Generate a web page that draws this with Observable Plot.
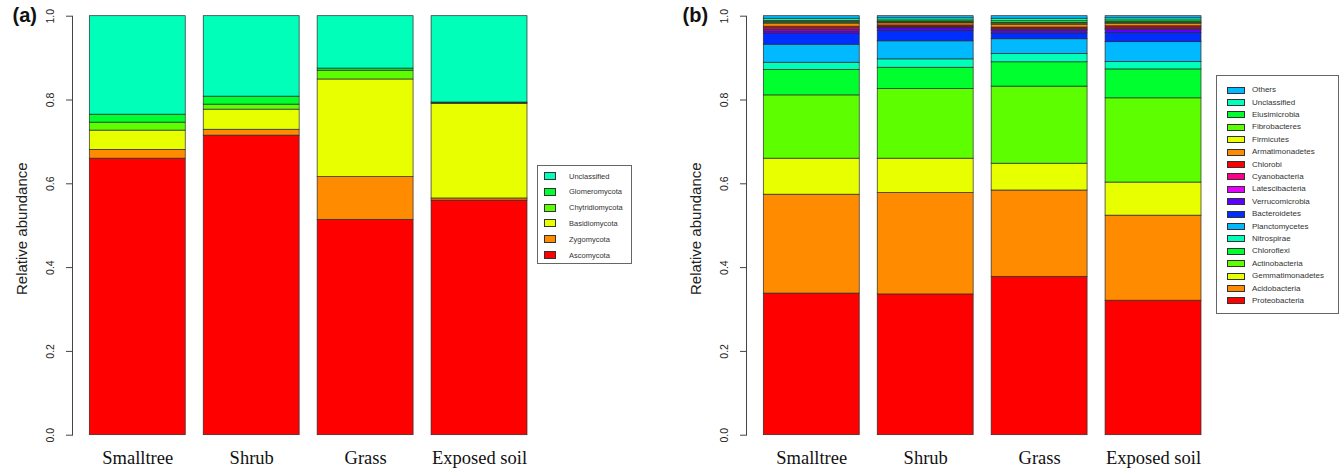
<!DOCTYPE html>
<html><head><meta charset="utf-8">
<script src="https://cdn.jsdelivr.net/npm/d3@7"></script>
<script src="https://cdn.jsdelivr.net/npm/@observablehq/plot@0.6"></script>
<style>
body{margin:0;background:#fff;}
#wrap{position:relative;width:1344px;height:469px;display:flex;overflow:hidden;}
.panel{position:relative;flex:none;}
.legend{position:absolute;border:1px solid #666;background:#fff;font-family:"Liberation Sans",Arial,sans-serif;color:#333;box-sizing:border-box;}
.item{position:absolute;white-space:nowrap;}
.sw{position:absolute;border:1px solid #333;box-sizing:border-box;}
</style>
</head><body><div id="wrap"></div>
<script>
const sites = ["Smalltree", "Shrub", "Grass", "Exposed soil"];
const yTicks = [0, 0.2, 0.4, 0.6, 0.8, 1.0];
const palette = ["#FF0000","#FF8B00","#E8FF00","#5DFF00","#00FF2E","#00FFB9","#00B9FF","#002EFF","#5D00FF","#E800FF","#FF008B"];

// (a) fungi, bottom to top
const fungiTaxa = ["Ascomycota","Zygomycota","Basidiomycota","Chytridiomycota","Glomeromycota","Unclassified"];
const ascomycota      = [0.660, 0.715, 0.514, 0.560];
const zygomycota      = [0.021, 0.014, 0.102, 0.005];
const basidiomycota   = [0.046, 0.048, 0.233, 0.226];
const chytridiomycota = [0.019, 0.012, 0.021, 0.001];
const glomeromycota   = [0.019, 0.019, 0.005, 0.002];
const fungiUnclass    = [0.235, 0.192, 0.125, 0.206];
const fungiSeries = [ascomycota, zygomycota, basidiomycota, chytridiomycota, glomeromycota, fungiUnclass];
const fungiColors = ["#FF0000","#FF8B00","#E8FF00","#5DFF00","#00FF2E","#00FFB9"];

// (b) bacteria, bottom to top
const bactTaxa = ["Proteobacteria","Acidobacteria","Gemmatimonadetes","Actinobacteria","Chloroflexi","Nitrospirae","Planctomycetes","Bacteroidetes","Verrucomicrobia","Latescibacteria","Cyanobacteria","Chlorobi","Armatimonadetes","Firmicutes","Fibrobacteres","Elusimicrobia","Unclassified","Others"];
const proteobacteria   = [0.338, 0.336, 0.378, 0.321];
const acidobacteria    = [0.236, 0.242, 0.206, 0.203];
const gemmatimonadetes = [0.086, 0.082, 0.064, 0.079];
const actinobacteria   = [0.151, 0.166, 0.184, 0.201];
const chloroflexi      = [0.061, 0.051, 0.058, 0.069];
const nitrospirae      = [0.017, 0.020, 0.020, 0.018];
const planctomycetes   = [0.043, 0.043, 0.035, 0.047];
const bacteroidetes    = [0.026, 0.025, 0.014, 0.022];
const verrucomicrobia  = [0.006, 0.006, 0.006, 0.007];
const latescibacteria  = [0.003, 0.002, 0.002, 0.003];
const cyanobacteria    = [0.004, 0.002, 0.003, 0.003];
const chlorobi         = [0.004, 0.003, 0.003, 0.003];
const armatimonadetes  = [0.006, 0.005, 0.006, 0.006];
const firmicutes       = [0.003, 0.002, 0.003, 0.002];
const fibrobacteres    = [0.002, 0.002, 0.002, 0.002];
const elusimicrobia    = [0.003, 0.003, 0.004, 0.004];
const bactUnclass      = [0.005, 0.005, 0.006, 0.005];
const others           = [0.006, 0.005, 0.006, 0.005];
const bactSeries = [proteobacteria, acidobacteria, gemmatimonadetes, actinobacteria, chloroflexi, nitrospirae, planctomycetes, bacteroidetes, verrucomicrobia, latescibacteria, cyanobacteria, chlorobi, armatimonadetes, firmicutes, fibrobacteres, elusimicrobia, bactUnclass, others];
const bactColors = bactTaxa.map((_, i) => palette[i % palette.length]);

function makePanel(letter, width, taxa, series, colors, lg) {
  const rows = [];
  sites.forEach((s, j) => taxa.forEach((t, i) => rows.push({site: s, taxon: t, value: series[i][j]})));
  const chart = Plot.plot({
    width, height: 469,
    marginLeft: 72, marginRight: 0, marginTop: 15.7, marginBottom: 34.3,
    x: {type: "band", domain: sites, range: [89.3, 527], paddingInner: 0.158, paddingOuter: 0, round: false, axis: null},
    y: {domain: [0, 1]},
    color: {domain: taxa, range: colors},
    style: {fontFamily: "'Liberation Sans', Arial, sans-serif", background: "white", overflow: "visible"},
    marks: [
      Plot.barY(rows, {x: "site", y: "value", fill: "taxon", stroke: "#2a2a2a", strokeWidth: 0.7}),
      Plot.frame({anchor: "left", stroke: "#444"}),
      Plot.axisY(yTicks, {tickSize: 6, tickFormat: () => "", label: null, stroke: "#444"}),
      Plot.text(yTicks, {y: d => d, text: d => d.toFixed(1), frameAnchor: "left", textAnchor: "middle", lineAnchor: "bottom", rotate: -90, dx: -19, fontSize: 10.5, fill: "#222"}),
      Plot.text(["Relative abundance"], {frameAnchor: "left", textAnchor: "middle", lineAnchor: "bottom", rotate: -90, dx: -46, dy: 3, fontSize: 15, fill: "#222"}),
      Plot.text(sites, {x: d => d, text: d => d, frameAnchor: "bottom", lineAnchor: "bottom", dy: 28.3, fontFamily: "'Liberation Serif', 'Times New Roman', serif", fontSize: 18.5, fill: "#111"}),
      Plot.text([letter], {frameAnchor: "top-left", textAnchor: "start", lineAnchor: "bottom", dx: lg.letterDx, dy: 5.5, fontSize: 20, fontWeight: "bold", fill: "#111"})
    ]
  });
  const div = document.createElement("div");
  div.className = "panel";
  div.style.width = width + "px";
  div.style.height = "469px";
  div.appendChild(chart);
  const box = document.createElement("div");
  box.className = "legend";
  Object.assign(box.style, {left: lg.left + "px", top: lg.top + "px", width: lg.w + "px", height: lg.h + "px", fontSize: lg.fs + "px"});
  const order = taxa.map((t, i) => i).reverse();
  order.forEach((i, k) => {
    const cy = lg.first + lg.step * k;
    const sw = document.createElement("div");
    sw.className = "sw";
    Object.assign(sw.style, {left: lg.swx + "px", top: (cy - lg.swh / 2) + "px", width: lg.sww + "px", height: lg.swh + "px", background: colors[i]});
    box.appendChild(sw);
    const it = document.createElement("div");
    it.className = "item";
    it.textContent = taxa[i];
    Object.assign(it.style, {left: lg.tx + "px", top: (cy - lg.fs * 0.6) + "px", lineHeight: (lg.fs * 1.2) + "px"});
    box.appendChild(it);
  });
  div.appendChild(box);
  return div;
}

const wrap = document.getElementById("wrap");
wrap.appendChild(makePanel("(a)", 674, fungiTaxa, fungiSeries, fungiColors,
  {left: 537, top: 165, w: 95, h: 99, fs: 7.5, first: 10, step: 15.8, swx: 6, sww: 12, swh: 8, tx: 31, letterDx: -60}));
wrap.appendChild(makePanel("(b)", 670, bactTaxa, bactSeries, bactColors,
  {left: 542, top: 75, w: 123, h: 239, fs: 8, first: 14, step: 12.4, swx: 10, sww: 18, swh: 7, tx: 35, letterDx: -64}));
</script>
</body></html>
